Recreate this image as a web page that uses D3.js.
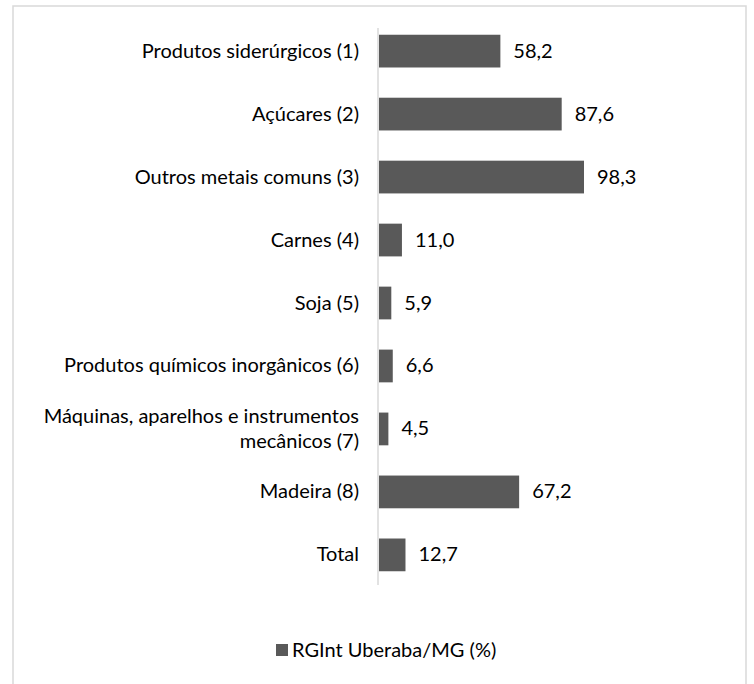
<!DOCTYPE html>
<html lang="pt">
<head>
<meta charset="utf-8"/>
<title>RGInt Uberaba/MG</title>
<script src="https://d3js.org/d3.v7.min.js"></script>
<style>
  body { margin: 0; background: #fff; }
  text { font-family: Lato, "Open Sans", sans-serif; fill: #000; }
</style>
</head>
<body>
<div id="chart"></div>
<script>
var categories = ["Produtos siderúrgicos (1)", "Açúcares (2)", "Outros metais comuns (3)", "Carnes (4)",
                  "Soja (5)", "Produtos químicos inorgânicos (6)",
                  "Máquinas, aparelhos e instrumentos|mecânicos (7)", "Madeira (8)", "Total"];
var values = [58.2, 87.6, 98.3, 11.0, 5.9, 6.6, 4.5, 67.2, 12.7];
var seriesName = "RGInt Uberaba/MG (%)";

var width = 754, height = 684;
var fs = 20;
var svg = d3.select('#chart').append('svg')
  .attr('width', width).attr('height', height);

// outer frame (bottom edge runs off the picture)
svg.append('rect')
  .attr('x', 13).attr('y', 6)
  .attr('width', 733).attr('height', 700)
  .attr('fill', 'none').attr('stroke', '#d9d9d9').attr('stroke-width', 1.5);

var x = d3.scaleLinear().domain([0, 98.3]).range([379, 584]);
var y = d3.scaleBand().domain(categories).range([19, 587])
  .paddingInner(0.48).paddingOuter(0.25);

svg.selectAll('rect.bar')
  .data(values)
  .enter().append('rect')
  .attr('class', 'bar')
  .attr('x', x(0))
  .attr('y', (d, i) => y(categories[i]))
  .attr('width', d => x(d) - x(0))
  .attr('height', y.bandwidth())
  .attr('fill', '#595959');

// axis line
svg.append('line')
  .attr('x1', 378).attr('x2', 378)
  .attr('y1', 28).attr('y2', 585)
  .attr('stroke', '#d9d9d9').attr('stroke-width', 1.5);

// category labels
svg.selectAll('text.cat')
  .data(categories)
  .enter().append('text')
  .attr('class', 'cat')
  .attr('text-anchor', 'end')
  .attr('font-size', fs)
  .each(function(d) {
    var lines = d.split('|');
    var cy = y(d) + y.bandwidth() / 2;
    var t = d3.select(this);
    lines.forEach(function(l, k) {
      t.append('tspan')
        .attr('x', 359)
        .attr('y', cy + 6.5 + (k - (lines.length - 1) / 2) * 25)
        .text(l);
    });
  });

// value labels
svg.selectAll('text.val')
  .data(values)
  .enter().append('text')
  .attr('class', 'val')
  .attr('x', d => x(d) + 13)
  .attr('y', (d, i) => y(categories[i]) + y.bandwidth() / 2 + 6.5)
  .attr('font-size', fs)
  .text(d => d3.format('.1f')(d).replace('.', ','));

// legend
svg.append('rect')
  .attr('x', 276).attr('y', 644)
  .attr('width', 12).attr('height', 12)
  .attr('fill', '#595959');
svg.append('text')
  .attr('x', 292).attr('y', 657)
  .attr('font-size', fs)
  .text(seriesName);
</script>
</body>
</html>
